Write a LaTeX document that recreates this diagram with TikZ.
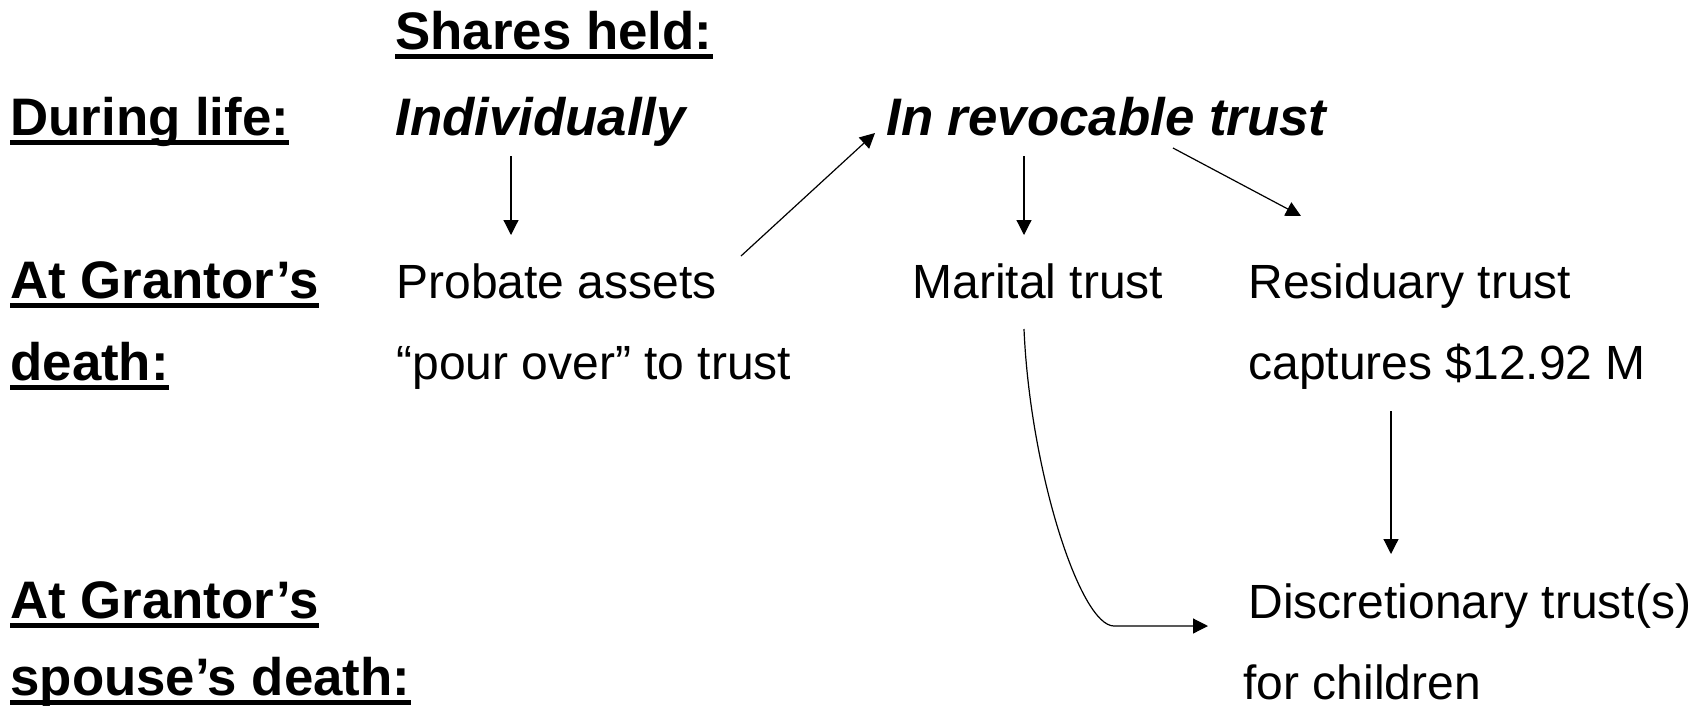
\documentclass[tikz,border=0pt]{standalone}
\usepackage{fontspec}
\setmainfont{Liberation Sans}
\usetikzlibrary{arrows.meta}

\begin{document}
\begin{tikzpicture}[
    x=0.5pt, y=-0.5pt,
    head/.style={font=\fontsize{26.4}{30}\selectfont\bfseries, anchor=base west, inner sep=0pt},
    held/.style={font=\fontsize{26.4}{30}\selectfont\bfseries\itshape, anchor=base west, inner sep=0pt},
    txt/.style={font=\fontsize{24}{28}\selectfont, anchor=base west, inner sep=0pt},
    uline/.style={line width=2.5pt},
    arr/.style={-{Triangle[length=7.5pt, width=7.5pt]}, line width=0.6pt},
]
\useasboundingbox (0,0) rectangle (1705,708);

% --- row labels (left column) ---
\node[head] (life)   at (10,135) {During life:};
\node[head] (grant)  at (10,298) {At Grantor’s};
\node[head] (death)  at (10,380) {death:};
\node[head] (grant2) at (10,618) {At Grantor’s};
\node[head] (spouse) at (10,695) {spouse’s death:};

% --- how the shares are held ---
\node[head] (shares) at (395,49)  {Shares held:};
\node[held] (ind)    at (395,135) {Individually};
\node[held] (rev)    at (886,135) {In revocable trust};

% --- at death ---
\node[txt] (prob)  at (396,298)  {Probate assets};
\node[txt] (pour)  at (396,379)  {“pour over” to trust};
\node[txt] (mar)   at (912,298)  {Marital trust};
\node[txt] (resid) at (1248,298) {Residuary trust};
\node[txt] (capt)  at (1248,379) {captures \$12.92 M};
\node[txt] (disc)  at (1248,618) {Discretionary trust(s)};
\node[txt] (kids)  at (1243,699) {for children};

% underlines
\foreach \n in {life, grant, death, grant2, spouse, shares}
    \draw[uline] ([yshift=-3.75pt]\n.base west) -- ([yshift=-3.75pt]\n.base east);

% --- arrows ---
\draw[arr] ([shift={(116,21)}]ind.base west) -- ([shift={(115,-63)}]prob.base west);
\draw[arr] ([shift={(345,-42)}]prob.base west) -- ([shift={(-11,-2)}]rev.base west);
\draw[arr] ([shift={(138,21)}]rev.base west) -- ([shift={(112,-63)}]mar.base west);
\draw[arr] ([shift={(287,13)}]rev.base west) -- ([shift={(53,-82)}]resid.base west);
\draw[arr] ([shift={(143,32)}]capt.base west) -- ([shift={(143,-64)}]disc.base west);
\draw[arr] ([shift={(112,31)}]mar.base west) .. controls +(6,141) and +(-34,0) ..
    ([shift={(-134,8)}]disc.base west) -- ([shift={(-40,8)}]disc.base west);

\end{tikzpicture}
\end{document}
